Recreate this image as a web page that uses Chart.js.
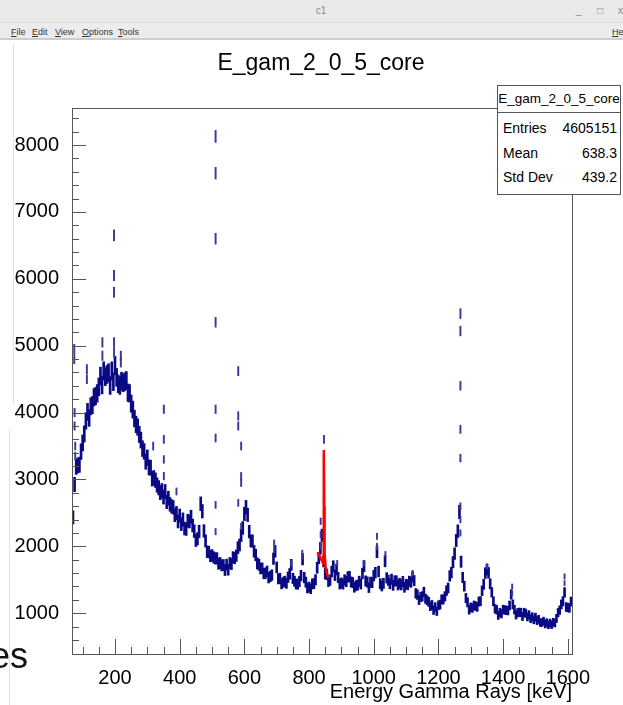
<!DOCTYPE html>
<html>
<head>
<meta charset="utf-8">
<script src="https://cdn.jsdelivr.net/npm/chart.js@4.4.1/dist/chart.umd.min.js"></script>
<style>
  html, body { margin: 0; padding: 0; background: #fff; }
  body { width: 623px; height: 705px; position: relative; overflow: hidden; font-family: "Liberation Sans", Arial, sans-serif; }
  #c { position: absolute; left: 0; top: 0; }
  .abs { position: absolute; white-space: nowrap; }
  #titlebar { left: 0; top: 0; width: 623px; height: 22px; background: #e9e9e9; border-bottom: 1px solid #dcdcdc; }
  #menubar { left: 0; top: 23px; width: 623px; height: 15px; background: #ececec; border-bottom: 2px solid #cdcdcd; }
  .menu { top: 27px; font-size: 9px; line-height: 11px; color: #333; }
  .win { top: 5px; font-size: 10px; line-height: 12px; color: #8a8a8a; }
  #htitle { left: 321px; top: 49px; transform: translateX(-50%); font-size: 23px; line-height: 26px; color: #000; }
  #stats { left: 497px; top: 85px; width: 122px; height: 108px; border: 1px solid #555; background: #fff; }
  #statsHead { left: 0; top: 0; width: 122px; height: 26px; border-bottom: 1px solid #555; }
  .st { font-size: 14px; line-height: 16px; color: #000; }
  .edge { background: #e2e2e2; width: 1px; }
  #leftover { left: -10px; top: 636px; font-size: 36px; line-height: 40px; color: #111; }
</style>
</head>
<body>
<canvas id="c" width="623" height="705"></canvas>

<div class="abs edge" style="left:13px; top:44px; height:360px;"></div>
<div class="abs edge" style="left:9px; top:430px; height:275px;"></div>
<div class="abs" id="leftover">es</div>

<div class="abs" id="titlebar"></div>
<div class="abs win" style="left:321px; transform:translateX(-50%);">c1</div>
<div class="abs win" style="left:576px;">_</div>
<div class="abs win" style="left:597px;">&#9633;</div>
<div class="abs win" style="left:618px;">x</div>
<div class="abs" id="menubar"></div>
<div class="abs menu" style="left:11px;"><u>F</u>ile</div>
<div class="abs menu" style="left:32px;"><u>E</u>dit</div>
<div class="abs menu" style="left:55px;"><u>V</u>iew</div>
<div class="abs menu" style="left:82px;"><u>O</u>ptions</div>
<div class="abs menu" style="left:118px;"><u>T</u>ools</div>
<div class="abs menu" style="left:612px;"><u>H</u>elp</div>

<div class="abs" id="htitle">E_gam_2_0_5_core</div>

<div class="abs" id="stats">
  <div class="abs" id="statsHead"></div>
  <div class="abs st" style="left:0; width:122px; text-align:center; top:5px; font-size:13.5px;">E_gam_2_0_5_core</div>
  <div class="abs st" style="left:5px; top:34px;">Entries</div>
  <div class="abs st" style="right:3px; top:34px;">4605151</div>
  <div class="abs st" style="left:5px; top:59px;">Mean</div>
  <div class="abs st" style="right:3px; top:59px;">638.3</div>
  <div class="abs st" style="left:5px; top:83px;">Std Dev</div>
  <div class="abs st" style="right:3px; top:83px;">439.2</div>
</div>

<script>
// histogram E_gam_2_0_5_core (5 keV steps, first bin at 70 keV)
const binStart = 70;
const binWidth = 5;
const counts = [
  2433, 2924, 3189, 3211, 3220, 3417, 3546, 3680, 3876, 4011,
  3920, 4095, 4112, 4230, 4247, 4288, 4385, 4545, 4412, 4623,
  4538, 4570, 4595, 4405, 4623, 4462, 4703, 4527, 4430, 4405,
  4470, 4445, 4462, 4480, 4297, 4288, 4135, 4045, 3912, 3823,
  3783, 3674, 3589, 3461, 3420, 3267, 3326, 3180, 3176, 3011,
  3024, 2989, 2917, 2876, 2804, 2833, 2737, 2819, 2667, 2720,
  2628, 2598, 2583, 2467, 2497, 2372, 2459, 2333, 2402, 2267,
  2258, 2383, 2372, 2442, 2311, 2228, 2089, 2113, 2222, 2637,
  2525, 2230, 2080, 1920, 1915, 1855, 1865, 1835, 1820, 1820,
  1740, 1750, 1715, 1720, 1645, 1725, 1650, 1750, 1735, 1835,
  1825, 1860, 1980, 2020, 2165, 2275, 2485, 2585, 2470, 2220,
  2080, 2080, 1925, 1870, 1745, 1725, 1670, 1670, 1595, 1595,
  1625, 1530, 1550, 1570, 1815, 1925, 1685, 1515, 1520, 1440,
  1462, 1477, 1447, 1538, 1588, 1723, 1521, 1477, 1437, 1434,
  1473, 1562, 1807, 1533, 1464, 1377, 1392, 1366, 1438, 1443,
  1500, 1680, 1825, 1970, 2165, 1775, 1590, 1580, 1475, 1495,
  1623, 1702, 1567, 1653, 1534, 1437, 1452, 1436, 1498, 1473,
  1542, 1547, 1467, 1458, 1388, 1413, 1421, 1477, 1437, 1594,
  1703, 1482, 1467, 1383, 1464, 1457, 1562, 1606, 1918, 1623,
  1442, 1407, 1447, 1778, 1528, 1493, 1441, 1507, 1417, 1484,
  1483, 1422, 1447, 1423, 1474, 1387, 1432, 1426, 1478, 1463,
  1542, 1487, 1297, 1278, 1198, 1243, 1251, 1317, 1217, 1194,
  1170, 1104, 1124, 1046, 1092, 1030, 1118, 1128, 1206, 1206,
  1252, 1337, 1377, 1558, 1608, 1763, 1891, 2087, 2227, 2514,
  1770, 1534, 1404, 1226, 1162, 1050, 1088, 1078, 1116, 1106,
  1094, 1174, 1180, 1336, 1432, 1600, 1652, 1604, 1440, 1312,
  1178, 1066, 1051, 969, 1011, 992, 1055, 1049, 1044, 1039,
  1116, 1281, 1132, 1054, 975, 1008, 1013, 1011, 952, 1011,
  998, 946, 976, 919, 946, 902, 940, 889, 909, 859,
  861, 881, 837, 859, 825, 853, 828, 866, 852, 921,
  1008, 1046, 1131, 1179, 1311, 1092, 1085, 1079, 1174
];

// single bins sticking out of the continuum (narrow lines)
const peakEnergy = [74, 74, 75, 75, 77, 77, 113, 113, 161, 161,
  197, 197, 197, 197, 197, 218, 218, 318, 351, 351, 351, 351, 390,
  511, 511, 511, 511, 511, 511, 511, 511,
  581, 581, 581, 581, 590, 590, 590, 590,
  692, 692, 745, 779, 779, 836, 836, 836, 846, 887, 969, 1010, 1010, 1036, 1120,
  1268, 1268, 1268, 1268, 1268, 1268, 1268, 1268,
  1351, 1428, 1428, 1590, 1590];
const peakCounts = [4950, 4800, 4000, 3800, 3500, 3350, 4650, 4500, 5050, 4850,
  6650, 6050, 5800, 5050, 4900, 4850, 4750, 3500, 4050, 3600, 3300, 3050, 2820,
  8130, 7580, 6600, 5350, 4050, 3620, 2620, 2220,
  4620, 3950, 3800, 2650, 3500, 3050, 2950, 2300,
  2050, 1950, 1750, 1900, 1850, 2375, 2175, 2000, 3600, 1750, 1750, 2150, 2000, 1880, 1600,
  5480, 5220, 4400, 3750, 3320, 2600, 2400, 2200,
  1700, 1400, 1300, 1550, 1450];

// red fit around 846 keV
const fitEnergy = [826, 832, 838, 842, 844, 845, 846, 847, 848, 851, 855, 860];
const fitCounts = [1910, 1860, 1800, 1760, 1800, 2600, 3440, 2600, 1900, 1700, 1600, 1530];

const xTicks = [200, 400, 600, 800, 1000, 1200, 1400, 1600];
const yTicks = [1000, 2000, 3000, 4000, 5000, 6000, 7000, 8000];

// ROOT style error bars: value +- k*sqrt(value)
// a 5 keV column stands for several 1 keV bins, so its visible spread is about 2 sigma
function errBars(xs, ys, k) {
  return ys.map((v, i) => ({ x: xs[i], y: [v - k * Math.sqrt(v), v + k * Math.sqrt(v)] }));
}
const energies = counts.map((c, i) => binStart + i * binWidth);

// frame + inward ticks like a ROOT pad
const rootFrame = {
  id: 'rootFrame',
  afterDatasetsDraw(chart) {
    const { ctx, chartArea: a, scales: { x, y } } = chart;
    ctx.save();
    ctx.strokeStyle = '#555';
    ctx.lineWidth = 1;
    ctx.strokeRect(Math.round(a.left) + 0.5, Math.round(a.top) + 0.5,
      Math.round(a.right - a.left), Math.round(a.bottom - a.top));
    ctx.beginPath();
    for (let v = 100; v <= 1600; v += 50) {
      const px = Math.round(x.getPixelForValue(v)) + 0.5;
      const len = v % 200 === 0 ? 15 : 7;
      ctx.moveTo(px, a.bottom);
      ctx.lineTo(px, a.bottom - len);
    }
    for (let v = 600; v <= 8400; v += 200) {
      const py = Math.round(y.getPixelForValue(v)) + 0.5;
      const len = v % 1000 === 0 ? 14 : 7;
      ctx.moveTo(a.left, py);
      ctx.lineTo(a.left + len, py);
    }
    ctx.stroke();
    ctx.restore();
  }
};

Chart.defaults.font.family = '"Liberation Sans", Arial, sans-serif';
Chart.defaults.color = '#000';

const ctx = document.getElementById('c').getContext('2d');
const spectrum = new Chart(ctx, {
  type: 'bar',
  data: {
    datasets: [
      {
        type: 'line',
        label: 'fit',
        data: fitEnergy.map((e, i) => ({ x: e, y: fitCounts[i] })),
        borderColor: '#ff0000',
        borderWidth: 2.5,
        pointRadius: 0,
        tension: 0,
        fill: false,
        order: 0
      },
      {
        label: 'E_gam_2_0_5_core',
        data: errBars(energies, counts, 2),
        backgroundColor: '#0a0a84',
        barThickness: 2,
        grouped: false,
        order: 2
      },
      {
        label: 'lines',
        data: errBars(peakEnergy, peakCounts, 1),
        backgroundColor: '#3a3a9c',
        barThickness: 1.3,
        grouped: false,
        order: 1
      }
    ]
  },
  options: {
    responsive: false,
    animation: false,
    devicePixelRatio: 1,
    layout: { padding: { top: 108, right: 51, left: 0, bottom: 0 } },
    plugins: {
      legend: { display: false },
      tooltip: { enabled: false }
    },
    scales: {
      x: {
        type: 'linear',
        min: 67,
        max: 1613,
        offset: false,
        grid: { display: false },
        border: { display: false },
        afterBuildTicks: (s) => { s.ticks = xTicks.map(v => ({ value: v })); },
        afterFit: (s) => { s.height = 51; },
        ticks: { autoSkip: false, maxRotation: 0, padding: 4, font: { size: 20 }, callback: (v) => String(v) },
        title: {
          display: true,
          text: 'Energy Gamma Rays [keV]',
          align: 'end',
          font: { size: 20 },
          padding: { top: 0, bottom: 1 }
        }
      },
      y: {
        min: 390,
        max: 8555,
        grid: { display: false },
        border: { display: false },
        afterBuildTicks: (s) => { s.ticks = yTicks.map(v => ({ value: v })); },
        afterFit: (s) => { s.width = 72; },
        ticks: { autoSkip: false, padding: 5, font: { size: 20 }, callback: (v) => String(v) }
      }
    }
  },
  plugins: [rootFrame]
});
</script>
</body>
</html>
